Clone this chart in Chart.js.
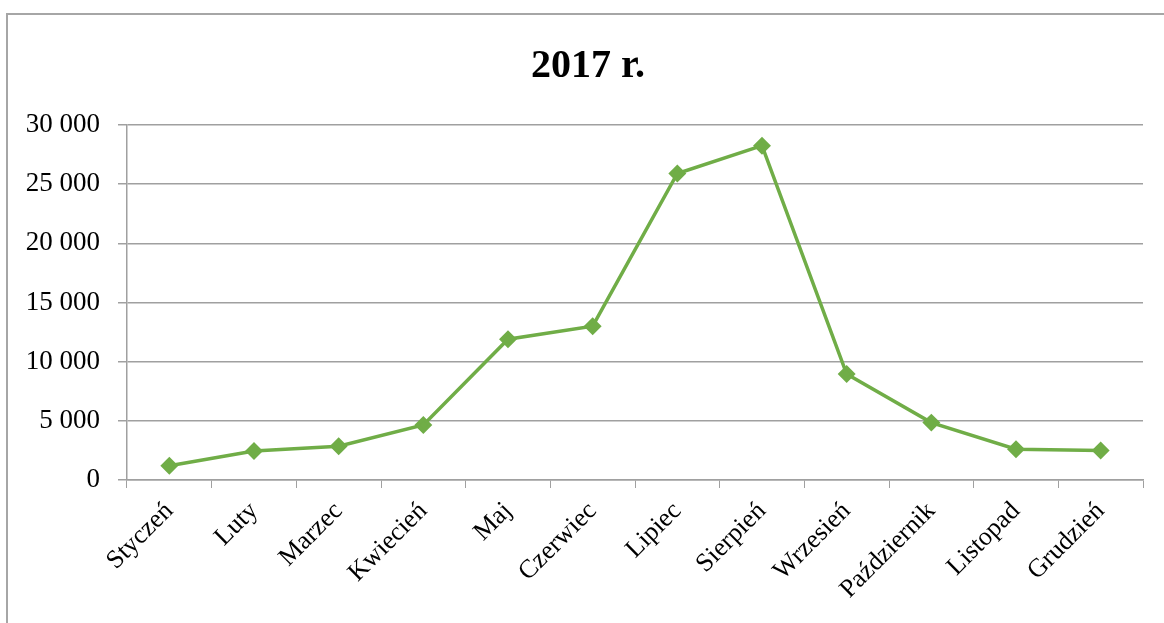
<!DOCTYPE html>
<html>
<head>
<meta charset="utf-8">
<script src="https://cdn.jsdelivr.net/npm/chart.js@4/dist/chart.umd.min.js"></script>
<style>
  html, body { margin: 0; padding: 0; background: #fff; }
  body { width: 1164px; height: 623px; position: relative; overflow: hidden; }
  #frame { position: absolute; left: 6px; top: 13px; width: 1200px; height: 700px;
           border-left: 2px solid #a6a6a6; border-top: 2px solid #a6a6a6; }
  #wrap { position: absolute; left: 0; top: 0; width: 1164px; height: 623px; }
</style>
</head>
<body>
<div id="frame"></div>
<div id="wrap"><canvas id="chart"></canvas></div>
<script>
// data
const months = ['Styczeń', 'Luty', 'Marzec', 'Kwiecień', 'Maj', 'Czerwiec', 'Lipiec',
                'Sierpień', 'Wrzesień', 'Październik', 'Listopad', 'Grudzień'];
const values2017 = [1200, 2450, 2850, 4650, 11900, 13000, 25900, 28250, 8950, 4850, 2600, 2500];
const yMin = 0;
const yMax = 30000;
const yStep = 5000;
const chartTitle = '2017 r.';

const fmt = v => String(v).replace(/\B(?=(\d{3})+(?!\d))/g, ' ');
const serif = "'Liberation Serif', 'DejaVu Serif', serif";

// title is centred on the whole frame (not on the plot), so draw it by hand
const frameTitle = {
    id: 'frameTitle',
    afterDraw(chart) {
        const ctx = chart.ctx;
        ctx.save();
        ctx.font = 'bold 40px ' + serif;
        ctx.fillStyle = '#000';
        ctx.textAlign = 'center';
        ctx.textBaseline = 'middle';
        ctx.fillText(chartTitle, 588, 67);
        ctx.restore();
    }
};

new Chart(document.getElementById('chart'), {
    type: 'line',
    data: {
        labels: months,
        datasets: [{
            label: chartTitle,
            data: values2017,
            borderColor: '#70ad47',
            backgroundColor: '#70ad47',
            borderWidth: 3.5,
            pointStyle: 'rectRot',
            pointRadius: 6.5,
            pointHoverRadius: 6.5,
            tension: 0
        }]
    },
    options: {
        responsive: true,
        maintainAspectRatio: false,
        animation: false,
        layout: { padding: { left: 0, right: 21, top: 125, bottom: 0 } },
        plugins: {
            legend: { display: false },
            tooltip: { enabled: false },
            title: { display: false }
        },
        scales: {
            x: {
                offset: true,
                grid: {
                    offset: true,
                    drawOnChartArea: false,
                    color: '#a0a0a0',
                    tickLength: 8
                },
                border: { color: '#a0a0a0', width: 1.5 },
                ticks: {
                    color: '#000',
                    font: { family: serif, size: 26 },
                    minRotation: 45,
                    maxRotation: 45,
                    padding: 8
                },
                afterFit: s => { s.height = 143; }
            },
            y: {
                min: yMin,
                max: yMax,
                grid: { color: '#a0a0a0', lineWidth: 1.5, tickLength: 9 },
                border: { color: '#a0a0a0', width: 1.5 },
                ticks: {
                    stepSize: yStep,
                    color: '#000',
                    font: { family: serif, size: 27 },
                    padding: 18,
                    callback: v => fmt(v)
                },
                afterFit: s => { s.width = 127; }
            }
        }
    },
    plugins: [frameTitle]
});
</script>
</body>
</html>
